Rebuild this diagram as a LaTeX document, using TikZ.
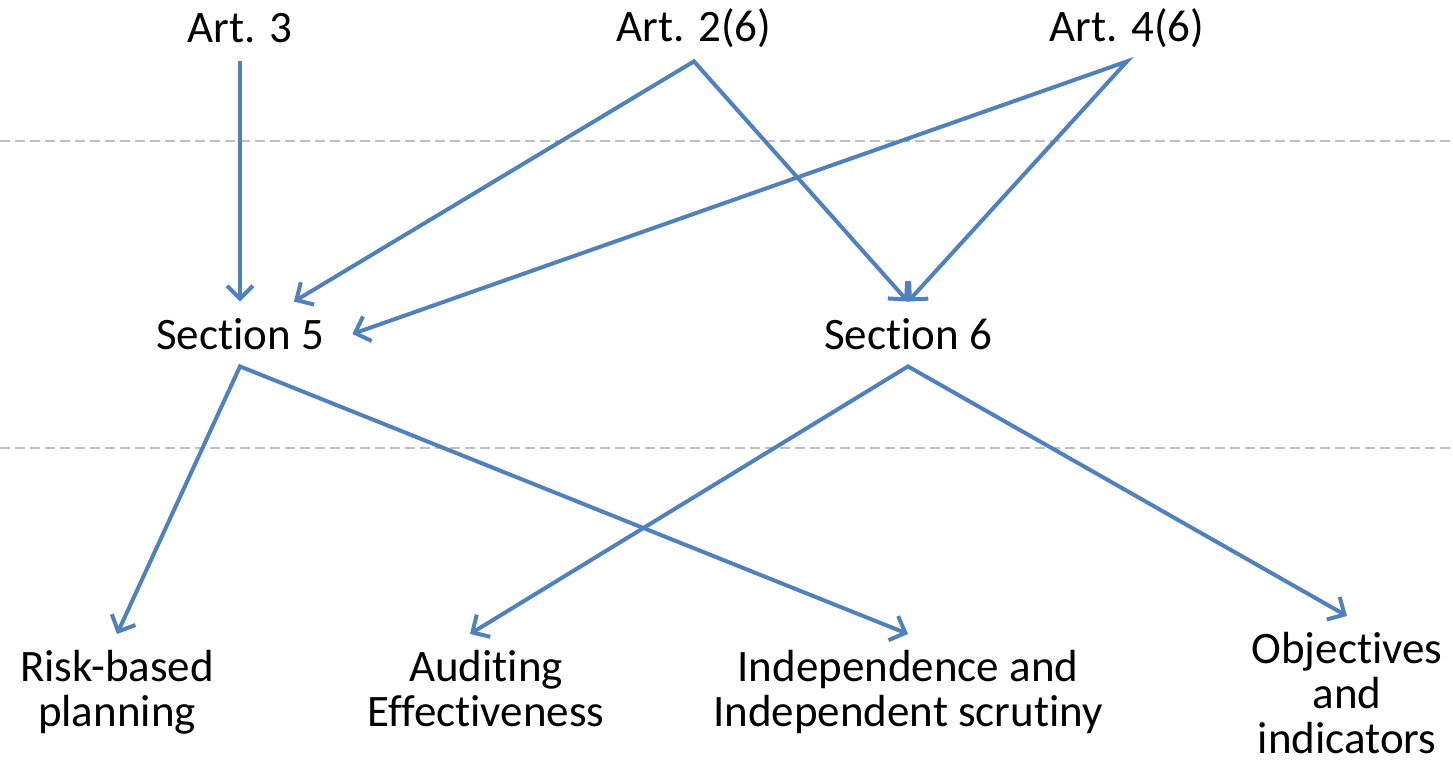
\documentclass[tikz,border=0pt]{standalone}
\usepackage{fontspec}
\setmainfont{Carlito}[Ligatures={NoCommon,NoContextual,NoRequired}]
\usetikzlibrary{arrows.meta}
\definecolor{linkblue}{HTML}{4F81BD}
\definecolor{rulegrey}{HTML}{BFBFBF}
\begin{document}
\begin{tikzpicture}[x=0.5pt, y=-0.5pt, >={Straight Barb[length=6.5pt,width=13pt]},
  font=\fontsize{22.5}{22.5}\selectfont,
  link/.style={draw=linkblue, line width=2pt},
  sep/.style={draw=rulegrey, line width=1pt, dash pattern=on 5pt off 2.5pt},
  top/.style={minimum height=33pt, inner sep=0pt},
  sect/.style={minimum height=32pt, minimum width=112pt, inner sep=0pt},
  leaf/.style={anchor=north, align=center, inner xsep=0pt, inner ysep=8pt}]
\useasboundingbox (0,0) rectangle (1453,764);
\draw[sep] (0,141) -- (1453,141);
\draw[sep] (0,448) -- (1453,448);
\node[top] (art3) at (240,28) {Art. 3};
\node[top] (art2) at (694,28) {Art. 2(6)};
\node[top] (art4) at (1127,28) {Art. 4(6)};
\node[sect] (sec5) at (240,334) {Section 5};
\node[sect] (sec6) at (908,334) {Section 6};
\node[leaf] (risk) at (117,634) {Risk-based\\planning};
\node[leaf] (audit) at (486,634) {Auditing\\Effectiveness};
\node[leaf] (indep) at (908,634) {Independence and\\Independent scrutiny};
\node[leaf] (obj) at (1347,616) {Objectives\\and\\indicators};
\draw[link, ->] (art3) -- (sec5);
\draw[link, <->] (sec5.31) -- (art2.south) -- (sec6.north);
\draw[link, <->] (sec5.east) -- (art4.south) -- (sec6.north);
\draw[link, <->] (risk.north) -- (sec5.south) -- (indep.north);
\draw[link, <->] ([xshift=-8pt]audit.north) -- (sec6.south) -- (obj.north);
\end{tikzpicture}
\end{document}
